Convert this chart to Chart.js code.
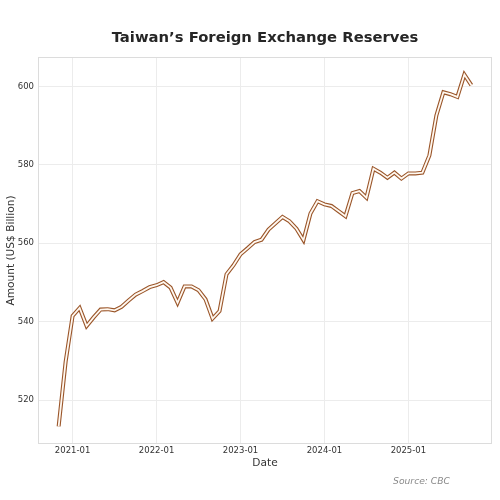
<!DOCTYPE html>
<html>
<head>
<meta charset="utf-8">
<script src="https://cdn.jsdelivr.net/npm/chart.js@4/dist/chart.umd.min.js"></script>
<style>
  body { margin: 0; background: #fff; }
</style>
</head>
<body>
<canvas id="reserves" width="500" height="500"></canvas>
<script>
// monthly observations, Nov 2020 - Oct 2025
const months = [
  '2020-11', '2020-12',
  '2021-01', '2021-02', '2021-03', '2021-04', '2021-05', '2021-06', '2021-07', '2021-08', '2021-09', '2021-10', '2021-11', '2021-12',
  '2022-01', '2022-02', '2022-03', '2022-04', '2022-05', '2022-06', '2022-07', '2022-08', '2022-09', '2022-10', '2022-11', '2022-12',
  '2023-01', '2023-02', '2023-03', '2023-04', '2023-05', '2023-06', '2023-07', '2023-08', '2023-09', '2023-10', '2023-11', '2023-12',
  '2024-01', '2024-02', '2024-03', '2024-04', '2024-05', '2024-06', '2024-07', '2024-08', '2024-09', '2024-10', '2024-11', '2024-12',
  '2025-01', '2025-02', '2025-03', '2025-04', '2025-05', '2025-06', '2025-07', '2025-08', '2025-09', '2025-10'
]

// US$ billion
const reserves = [
  513.3, 529.8,
  541.5, 543.5, 538.9, 541.1, 543.1, 543.2, 542.9, 543.8, 545.4, 546.9, 547.8, 548.8,
  549.3, 550.1, 548.7, 544.8, 549.0, 549.0, 548.0, 545.7, 540.8, 542.7, 552.1, 554.4,
  557.2, 558.7, 560.3, 560.9, 563.5, 565.1, 566.7, 565.6, 563.7, 560.8, 567.6, 570.7,
  569.9, 569.5, 568.2, 566.9, 572.8, 573.3, 571.6, 579.0, 578.0, 576.7, 578.0, 576.5,
  577.8, 577.8, 578.0, 582.4, 592.6, 598.5, 598.0, 597.3, 603.0, 600.3
]

const xTickLabels = ['2021-01', '2022-01', '2023-01', '2024-01', '2025-01']
const yTicks = [520, 540, 560, 580, 600]

const chartTitle = 'Taiwan\u2019s Foreign Exchange Reserves'
const sourceNote = 'Source: CBC'

const points = reserves.map((v, i) => ({ x: i, y: v }))

// matplotlib-like 5% margins around the data
const xPad = (months.length - 1) * 0.05
const yMin = Math.min(...reserves)
const yMax = Math.max(...reserves)
const yPad = (yMax - yMin) * 0.05

const fontFamily = '"DejaVu Sans", Verdana, sans-serif'

const frameAndText = {
  id: 'frameAndText',
  afterDraw(chart) {
    const { ctx, chartArea } = chart
    ctx.save()
    ctx.strokeStyle = '#dcdcdc'
    ctx.lineWidth = 1
    ctx.strokeRect(chartArea.left + 0.5, chartArea.top + 0.5, chartArea.width - 1, chartArea.height - 1)

    ctx.fillStyle = '#262626'
    ctx.font = 'bold 14.8px ' + fontFamily
    ctx.textAlign = 'center'
    ctx.textBaseline = 'middle'
    ctx.fillText(chartTitle, (chartArea.left + chartArea.right) / 2, 38.5)

    ctx.fillStyle = '#8a8a8a'
    ctx.font = 'italic 9.2px ' + fontFamily
    ctx.textAlign = 'right'
    ctx.fillText(sourceNote, 450, 482)
    ctx.restore()
  }
}

new Chart(document.getElementById('reserves'), {
  type: 'line',
  data: {
    datasets: [
      {
        label: 'inner',
        data: points,
        borderColor: '#fff8f0',
        borderWidth: 1.8,
        pointRadius: 0,
        tension: 0,
        order: 0
      },
      {
        label: 'outer',
        data: points,
        borderColor: '#9a5529',
        borderWidth: 4,
        pointRadius: 0,
        tension: 0,
        order: 1
      }
    ]
  },
  options: {
    responsive: false,
    animation: false,
    layout: { padding: { top: 57, right: 8, left: 0, bottom: 26 } },
    plugins: {
      legend: { display: false },
      tooltip: { enabled: false }
    },
    scales: {
      x: {
        type: 'linear',
        min: -xPad,
        max: months.length - 1 + xPad,
        afterBuildTicks: scale => {
          scale.ticks = xTickLabels.map(l => ({ value: months.indexOf(l) }))
        },
        afterFit: scale => { scale.height = 30 },
        ticks: {
          autoSkip: false,
          maxRotation: 0,
          padding: 2,
          color: '#333',
          font: { family: fontFamily, size: 8.5 },
          callback: v => months[v]
        },
        grid: { color: '#ececec', drawTicks: false },
        border: { display: false },
        title: {
          display: true,
          text: 'Date',
          color: '#333',
          font: { family: fontFamily, size: 10.6 },
          padding: { top: 1, bottom: 4 }
        }
      },
      y: {
        min: yMin - yPad,
        max: yMax + yPad,
        afterBuildTicks: scale => {
          scale.ticks = yTicks.map(v => ({ value: v }))
        },
        afterFit: scale => { scale.width = 38 },
        ticks: {
          padding: 4,
          color: '#333',
          font: { family: fontFamily, size: 8.5 }
        },
        grid: { color: '#ececec', drawTicks: false },
        border: { display: false },
        title: {
          display: true,
          text: 'Amount (US$ Billion)',
          color: '#333',
          font: { family: fontFamily, size: 10.6 },
          padding: { top: 5, bottom: 2 }
        }
      }
    }
  },
  plugins: [frameAndText]
})
</script>
</body>
</html>
